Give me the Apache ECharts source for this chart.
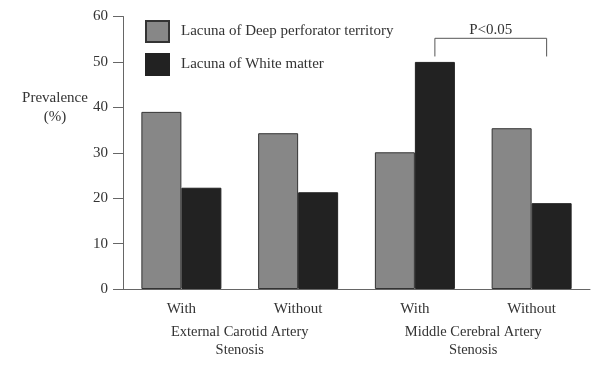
<!DOCTYPE html>
<html>
<head>
<meta charset="utf-8">
<script src="https://cdn.jsdelivr.net/npm/echarts@6/dist/echarts.min.js"></script>
<style>html,body{margin:0;padding:0;background:#fff}#c{width:600px;height:370px}</style>
</head>
<body>
<div id="c"></div>
<script>
var categories = ["With", "Without", "With", "Without"];
var groupLabels = ["External Carotid Artery\nStenosis", "Middle Cerebral Artery\nStenosis"];
var seriesNames = ["Lacuna of Deep perforator territory", "Lacuna of White matter"];
var deepValues = [39, 34.3, 30.1, 35.4];
var whiteValues = [22.3, 21.3, 50, 18.9];
var yTicks = [0, 10, 20, 30, 40, 50, 60];
var bracketText = "P<0.05";
var bracketFrom = 2, bracketTo = 3;
var bracketTop = 55.2, bracketBottom = 51.2;

var FONT = "Liberation Serif";
var chart = echarts.init(document.getElementById('c'));
var option = {
  animation: false,
  backgroundColor: '#fff',
  textStyle: { fontFamily: FONT },
  title: {
    text: 'Prevalence\n(%)',
    left: 50, top: 84,
    textAlign: 'center',
    textStyle: { fontFamily: FONT, fontSize: 15, fontWeight: 'normal', color: '#333', lineHeight: 19 }
  },
  legend: {
    orient: 'vertical',
    left: 145, top: 20, padding: 0,
    icon: 'rect',
    itemWidth: 23, itemHeight: 21, itemGap: 10,
    textStyle: { fontFamily: FONT, fontSize: 15, color: '#333', padding: [0, 0, 0, 7] },
    data: seriesNames
  },
  grid: { left: 123, right: 10, top: 16.5, bottom: 81, containLabel: false },
  xAxis: [{
    type: 'category',
    data: categories,
    boundaryGap: true,
    axisLine: { lineStyle: { color: '#666', width: 1 } },
    axisTick: { show: false },
    axisLabel: { fontFamily: FONT, fontSize: 15, color: '#333', margin: 13 }
  }, {
    type: 'category',
    data: groupLabels,
    position: 'bottom',
    offset: 34,
    axisLine: { show: false },
    axisTick: { show: false },
    axisLabel: { fontFamily: FONT, fontSize: 14.5, color: '#333', lineHeight: 18, margin: 0 }
  }],
  yAxis: {
    type: 'value',
    min: 0, max: 60, interval: 10,
    axisLine: { show: true, lineStyle: { color: '#666', width: 1 } },
    axisTick: { show: true, length: 10, lineStyle: { color: '#666' } },
    splitLine: { show: false },
    axisLabel: { fontFamily: FONT, fontSize: 15, color: '#333', margin: 15,
      formatter: function (v) { return yTicks.indexOf(v) >= 0 ? String(v) : ''; } }
  },
  series: [{
    name: seriesNames[0], type: 'bar', data: deepValues,
    barWidth: 40, barGap: '0%',
    itemStyle: { color: '#878787', borderColor: '#333', borderWidth: 1 }
  }, {
    name: seriesNames[1], type: 'bar', data: whiteValues,
    barWidth: 40, barGap: '0%',
    itemStyle: { color: '#222', borderColor: '#222', borderWidth: 1 }
  }]
};
chart.setOption(option);

function drawBracket() {
  var pL = chart.convertToPixel({ xAxisIndex: 0, yAxisIndex: 0 }, [bracketFrom, bracketTop]);
  var pR = chart.convertToPixel({ xAxisIndex: 0, yAxisIndex: 0 }, [bracketTo, bracketTop]);
  var pB = chart.convertToPixel({ xAxisIndex: 0, yAxisIndex: 0 }, [bracketTo, bracketBottom]);
  var x1 = pL[0] + 20, x2 = pR[0] + 15, yT = pL[1], yB = pB[1];
  chart.setOption({
    graphic: [{
      type: 'polyline',
      shape: { points: [[x1, yB], [x1, yT], [x2, yT], [x2, yB]] },
      style: { stroke: '#555', lineWidth: 1, fill: null }
    }, {
      type: 'text',
      x: (x1 + x2) / 2, y: yT - 8,
      style: { text: bracketText, fontFamily: FONT, fontSize: 15, fill: '#333', align: 'center', verticalAlign: 'middle' }
    }]
  });
}
drawBracket();
</script>
</body>
</html>
